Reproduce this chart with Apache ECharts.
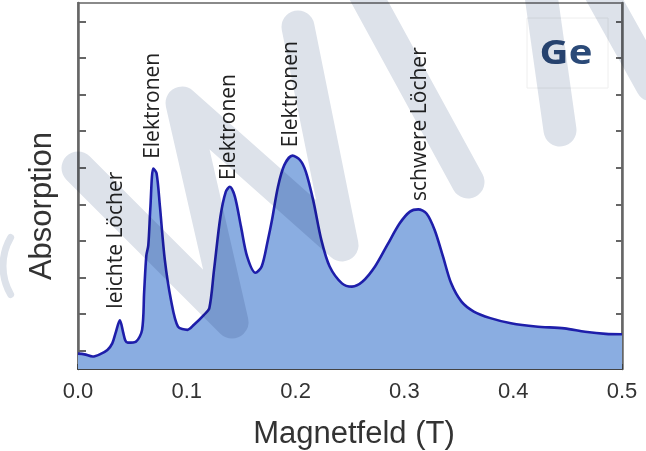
<!DOCTYPE html>
<html>
<head>
<meta charset="utf-8">
<script src="https://cdn.jsdelivr.net/npm/echarts@6/dist/echarts.min.js"></script>
<style>
  html, body { margin: 0; padding: 0; background: #ffffff; }
  #chart { width: 646px; height: 451px; }
</style>
</head>
<body>
<div id="chart"></div>
<script>
// Cyclotron-resonance absorption spectrum of germanium
const fieldT = [
  0, 0.006, 0.0135, 0.02, 0.027, 0.0315, 0.0345, 0.0385, 0.0415, 0.0435,
  0.0457, 0.0533, 0.0589, 0.0608, 0.0628, 0.0646, 0.0665, 0.0692, 0.0722, 0.0753,
  0.0798, 0.0855, 0.0919, 0.1006, 0.1063, 0.1158, 0.1207, 0.125, 0.1309, 0.1358,
  0.1396, 0.1442, 0.1498, 0.1555, 0.1631, 0.1688, 0.1745, 0.1783, 0.1838, 0.1896,
  0.1971, 0.204, 0.2093, 0.2161, 0.2237, 0.2313, 0.2426, 0.2518, 0.2616, 0.273,
  0.2843, 0.2957, 0.3051, 0.3127, 0.3203, 0.3278, 0.3355, 0.343, 0.3525, 0.3638,
  0.379, 0.3979, 0.4206, 0.4471, 0.466, 0.485, 0.5
];
const absorption = [
  0.42, 0.40, 0.34, 0.40, 0.52, 0.70, 0.98, 1.33, 1.00, 0.78,
  0.72, 0.75, 1.07, 2.10, 3.10, 3.38, 4.40, 5.48, 5.35, 4.44,
  2.98, 1.88, 1.16, 1.07, 1.20, 1.48, 1.66, 2.70, 4.16, 4.84,
  4.98, 4.71, 3.89, 3.07, 2.63, 2.80, 3.52, 4.07, 4.98, 5.57,
  5.83, 5.71, 5.40, 4.62, 3.52, 2.80, 2.34, 2.25, 2.39, 2.80,
  3.39, 3.98, 4.30, 4.36, 4.25, 3.80, 3.07, 2.34, 1.84, 1.57,
  1.39, 1.25, 1.16, 1.11, 1.02, 0.96, 0.95
];

const xTickValues = [0, 0.1, 0.2, 0.3, 0.4, 0.5];
const xTickLabels = ['0.0', '0.1', '0.2', '0.3', '0.4', '0.5'];
const yTickValues = [0.5, 1.5, 2.5, 3.5, 4.5, 5.5, 6.5, 7.5, 8.5, 9.5];

// peak assignments, placed in data coordinates
const peakNames  = ['leichte Löcher', 'Elektronen', 'Elektronen', 'Elektronen', 'schwere Löcher'];
const peakLabelX = [0.0349, 0.0689, 0.1388, 0.1958, 0.3143];
const peakLabelY = [3.52, 7.19, 6.61, 7.51, 6.69];

const materialLabel = 'Ge';
const xAxisTitle = 'Magnetfeld (T)';
const yAxisTitle = 'Absorption';

const chart = echarts.init(document.getElementById('chart'), null, { renderer: 'canvas' });

const axisGray = '#666666';
const textDark = '#333333';

chart.setOption({
  animation: false,
  grid: {
    left: 78, right: 24, top: 3, bottom: 82,
    show: true, borderColor: '#8a8a8a', borderWidth: 2, backgroundColor: 'transparent'
  },
  xAxis: {
    type: 'value', min: 0, max: 0.5, interval: 0.1,
    axisLine: { show: true, lineStyle: { color: '#444444', width: 2 } },
    axisTick: { show: true, inside: true, length: 5, lineStyle: { color: '#333333', width: 1.5 } },
    minorTick: { show: true, splitNumber: 2, length: 4, lineStyle: { color: '#333333', width: 1.5 } },
    splitLine: { show: false },
    axisLabel: {
      margin: 12,
      fontFamily: 'Liberation Sans', fontSize: 22, color: textDark,
      formatter: function (v) {
        const i = xTickValues.findIndex(t => Math.abs(t - v) < 1e-9);
        return i >= 0 ? xTickLabels[i] : '';
      }
    }
  },
  yAxis: [
    {
      type: 'value', min: 0, max: 10, position: 'left',
      axisLine: { show: true, lineStyle: { color: axisGray, width: 2.5 } },
      axisTick: { show: true, inside: true, length: 8, customValues: yTickValues, lineStyle: { color: axisGray, width: 2 } },
      axisLabel: { show: false },
      splitLine: { show: false }
    },
    {
      type: 'value', min: 0, max: 10, position: 'right',
      axisLine: { show: true, lineStyle: { color: axisGray, width: 2.5 } },
      axisTick: { show: true, inside: true, length: 6, customValues: yTickValues, lineStyle: { color: axisGray, width: 2 } },
      axisLabel: { show: false },
      splitLine: { show: false }
    }
  ],
  series: [{
    type: 'line',
    data: fieldT.map((x, i) => [x, absorption[i]]),
    symbol: 'none',
    smooth: 0.3,
    lineStyle: { color: '#1e1eaa', width: 2.6 },
    areaStyle: { color: 'rgb(138,173,225)', opacity: 1 },
    z: 2
  }]
});

// text labels and decorative overlay
const labelEls = peakNames.map((name, i) => {
  const p = chart.convertToPixel({ gridIndex: 0 }, [peakLabelX[i], peakLabelY[i]]);
  return {
    type: 'text', x: p[0], y: p[1], rotation: Math.PI / 2, z: 50,
    style: {
      text: name, font: '21px "Open Sans"', fill: '#222222',
      align: 'center', verticalAlign: 'middle',
      textAlign: 'center', textVerticalAlign: 'middle'
    }
  };
});

const strokeStyle = {
  stroke: '#dde2ea', lineWidth: 33, lineCap: 'round', lineJoin: 'round',
  fill: null, blend: 'multiply'
};

chart.setOption({
  graphic: [
    ...labelEls,
    {
      type: 'rect', z: 40,
      shape: { x: 527, y: 18, width: 81, height: 70 },
      style: { fill: 'rgba(255,255,255,0.6)', stroke: '#eeeeee', lineWidth: 1 }
    },
    {
      type: 'text', x: 566, y: 54, z: 50, scaleX: 1.18,
      style: {
        text: materialLabel, font: 'bold 34px "Open Sans"', fill: '#2b4a78',
        align: 'center', verticalAlign: 'middle', textAlign: 'center', textVerticalAlign: 'middle'
      }
    },
    {
      type: 'text', x: 354, y: 434, z: 50,
      style: {
        text: xAxisTitle, font: '31px "Liberation Sans"', fill: textDark,
        align: 'center', verticalAlign: 'middle', textAlign: 'center', textVerticalAlign: 'middle'
      }
    },
    {
      type: 'text', x: 42, y: 206, rotation: Math.PI / 2, z: 50,
      style: {
        text: yAxisTitle, font: '31px "Liberation Sans"', fill: textDark,
        align: 'center', verticalAlign: 'middle', textAlign: 'center', textVerticalAlign: 'middle'
      }
    },
    { type: 'polyline', z: 60, shape: { points: [[78, 168], [232, 322], [182, 103], [342, 245], [298, 27]] }, style: strokeStyle },
    { type: 'polyline', z: 60, shape: { points: [[362, -12], [468, 182]] }, style: strokeStyle },
    { type: 'polyline', z: 60, shape: { points: [[540, -12], [560, 130]] }, style: strokeStyle },
    { type: 'polyline', z: 60, shape: { points: [[598, -12], [652, 85]] }, style: strokeStyle },
    {
      type: 'arc', z: 60,
      shape: { cx: 60, cy: 266, r: 57, startAngle: Math.PI * 150 / 180, endAngle: Math.PI * 210 / 180 },
      style: { stroke: '#dde2ea', lineWidth: 7, lineCap: 'round', fill: null, blend: 'multiply' }
    }
  ]
});
</script>
</body>
</html>
